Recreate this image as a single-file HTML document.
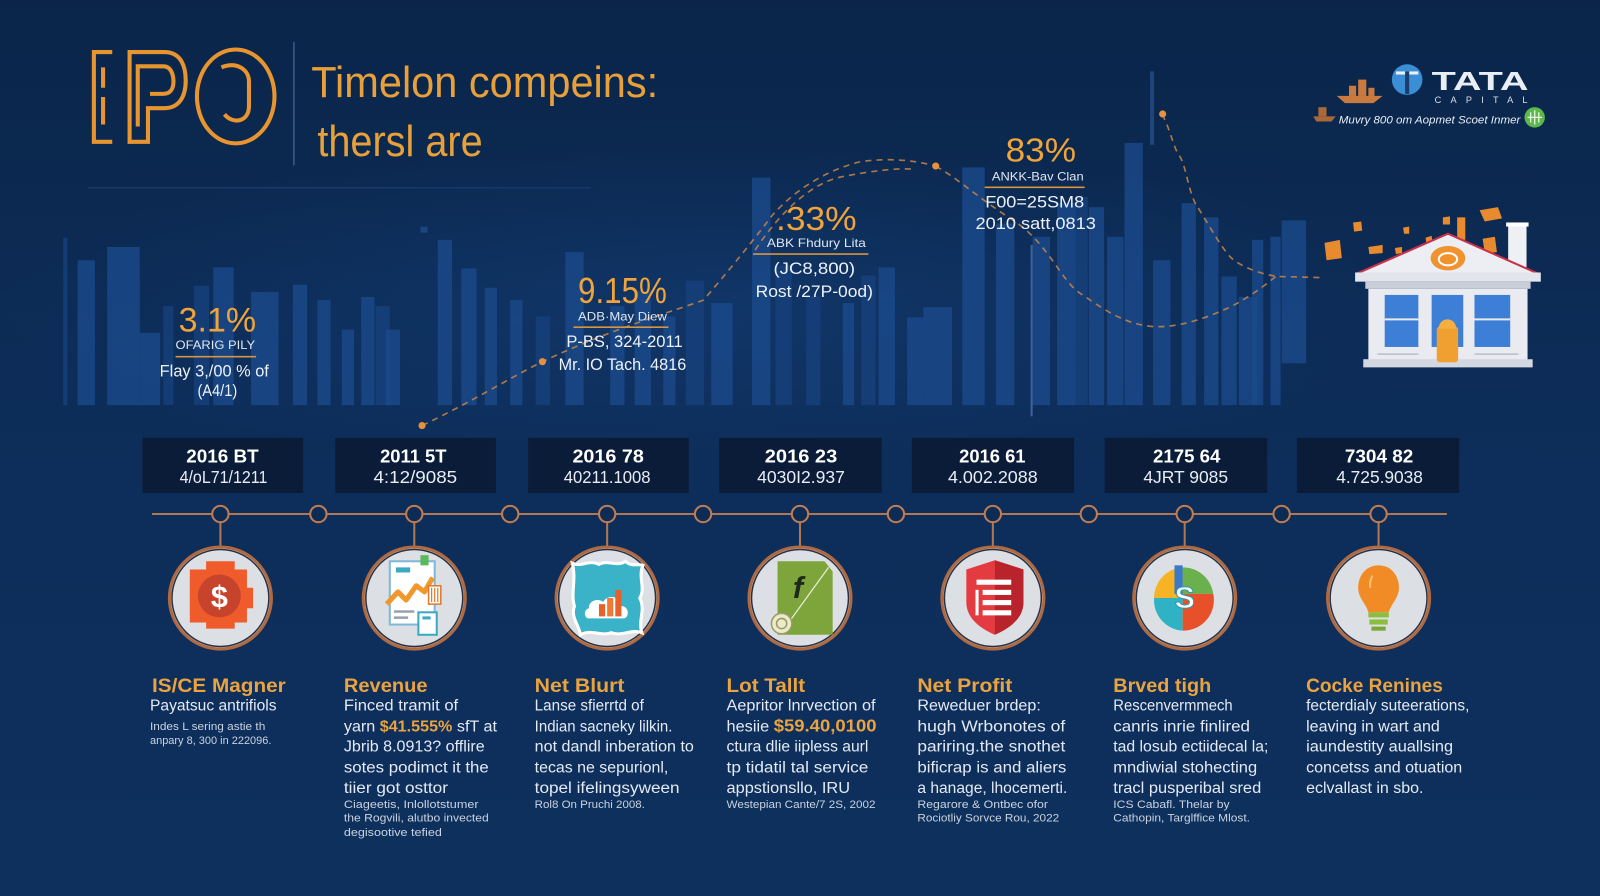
<!DOCTYPE html>
<html><head><meta charset="utf-8">
<style>
html,body{margin:0;padding:0;background:#0c2b55;overflow:hidden;}
svg{display:block;}
text{font-family:"Liberation Sans",sans-serif;}
.b1{fill:#1b4a8c;opacity:.78}
.b2{fill:#163f7a;opacity:.85}
.st{fill:#f0a43a;text-anchor:middle}
.sl{fill:#dfe6f0;text-anchor:middle;font-size:11.5px}
.sv{fill:#eef2f8;text-anchor:middle;font-size:16px}
.dl1{fill:#ffffff;text-anchor:middle;font-size:18.5px;font-weight:bold}
.dl2{fill:#e8edf5;text-anchor:middle;font-size:17px}
.tt{fill:#eaa33e;font-size:19px;font-weight:bold}
.bd{fill:#e4eaf3;font-size:15px}
.sm{fill:#c9d3e0;font-size:10.5px}
</style></head><body>
<svg width="1600" height="896" viewBox="0 0 1568 878" preserveAspectRatio="none" xmlns="http://www.w3.org/2000/svg">
<defs>
<linearGradient id="bg" x1="0" y1="0" x2="0" y2="1">
<stop offset="0" stop-color="#0a2549"/>
<stop offset="0.45" stop-color="#0d2d59"/>
<stop offset="1" stop-color="#0e305d"/>
</linearGradient>
<radialGradient id="glow" cx="0.5" cy="0.5" r="0.5">
<stop offset="0" stop-color="#14407a" stop-opacity="0.5"/>
<stop offset="1" stop-color="#14407a" stop-opacity="0"/>
</radialGradient>
</defs>
<rect width="1568" height="878" fill="url(#bg)"/>
<ellipse cx="700" cy="300" rx="700" ry="160" fill="url(#glow)"/>

<!-- background bars -->
<g>
<rect class="b2" x="62" y="233" width="4" height="164"/>
<rect class="b1" x="76" y="255" width="17" height="142"/>
<rect class="b1" x="105" y="242" width="32" height="155"/>
<rect class="b1" x="137" y="326" width="20" height="71"/>
<rect class="b2" x="160" y="300" width="10" height="97"/>
<rect class="b2" x="190" y="280" width="15" height="117"/>
<rect class="b1" x="209" y="262" width="20" height="135"/>
<rect class="b1" x="246" y="286" width="27" height="111"/>
<rect class="b1" x="287" y="279" width="14" height="118"/>
<rect class="b1" x="311" y="294" width="13" height="103"/>
<rect class="b1" x="335" y="323" width="12" height="74"/>
<rect class="b1" x="354" y="291" width="13" height="106"/>
<rect class="b2" x="368" y="300" width="14" height="97"/>
<rect class="b1" x="378" y="323" width="14" height="74"/>
<rect class="b1" x="412" y="222" width="7" height="6"/>
<rect class="b1" x="429" y="235" width="14" height="162"/>
<rect class="b1" x="452" y="263" width="15" height="134"/>
<rect class="b1" x="475" y="282" width="12" height="115"/>
<rect class="b1" x="500" y="294" width="12" height="103"/>
<rect class="b2" x="525" y="310" width="14" height="87"/>
<rect class="b1" x="554" y="247" width="18" height="150"/>
<rect class="b1" x="598" y="300" width="14" height="97"/>
<rect class="b1" x="622" y="285" width="16" height="112"/>
<rect class="b1" x="650" y="310" width="12" height="87"/>
<rect class="b2" x="672" y="275" width="18" height="122"/>
<rect class="b1" x="697" y="297" width="21" height="100"/>
<rect class="b1" x="737" y="174" width="18" height="223"/>
<rect class="b2" x="760" y="260" width="16" height="137"/>
<rect class="b2" x="790" y="290" width="14" height="107"/>
<rect class="b1" x="826" y="297" width="11" height="100"/>
<rect class="b2" x="844" y="270" width="14" height="127"/>
<rect class="b1" x="861" y="262" width="16" height="135"/>
<rect class="b1" x="889" y="311" width="16" height="86"/>
<rect class="b1" x="905" y="301" width="28" height="96"/>
<rect class="b1" x="943" y="164" width="22" height="233"/>
<rect class="b1" x="976" y="219" width="18" height="178"/>
<rect class="b1" x="1012" y="232" width="17" height="165"/>
<rect class="b1" x="1036" y="199" width="18" height="198"/>
<rect class="b2" x="1054" y="193" width="12" height="204"/>
<rect class="b1" x="1067" y="203" width="15" height="194"/>
<rect class="b1" x="1085" y="232" width="16" height="165"/>
<rect class="b1" x="1102" y="140" width="18" height="257"/>
<rect class="b1" x="1130" y="255" width="17" height="142"/>
<rect class="b1" x="1158" y="199" width="14" height="198"/>
<rect class="b1" x="1180" y="213" width="14" height="184"/>
<rect class="b1" x="1197" y="271" width="15" height="126"/>
<rect class="b1" x="1214" y="291" width="18" height="106"/>
<rect class="b1" x="1227" y="235" width="11" height="162"/>
<rect class="b1" x="1245" y="232" width="10" height="165"/>
<rect class="b1" x="1256" y="216" width="24" height="140"/>
<rect x="1127" y="70" width="4" height="72" fill="#2a5a9a" opacity=".6"/>
<rect x="1010" y="240" width="2" height="168" fill="#4a70a8" opacity=".8"/>
</g>

<!-- faint top line -->
<line x1="86" y1="184" x2="579" y2="184" stroke="#16396a" stroke-width="1.5"/>

<!-- dashed curves -->
<g fill="none" stroke="#c98648" stroke-width="1.6" stroke-dasharray="6 5" opacity=".85">
<path d="M413.6,417 C460,395 500,370 531.6,354.4 C600,322 660,305 689.5,294 C710,270 735,240 756,212 C775,190 805,168 843,158.5 C875,154 900,158 917,162.7"/>
<path d="M740,245 C770,200 800,178 826,173 S880,164 896,166"/>
<path d="M917,163 C935,172 960,195 993,216 S1040,275 1058,287 S1100,318 1130,320 S1200,305 1218,294 S1245,275 1254,268"/>
<path d="M1139,112 C1148,130 1150,145 1156,153 S1165,190 1173,202 S1195,240 1205,251 S1240,270 1254,271 L1295,272"/>
</g>
<g fill="#e8903e">
<circle cx="413.6" cy="417" r="3.5"/>
<circle cx="531.6" cy="354.4" r="3.5"/>
<circle cx="917" cy="162.7" r="3.5"/>
<circle cx="1139.4" cy="111.7" r="3.5"/>
</g>

<!-- IPO logo -->
<g fill="none" stroke="#e8952f" stroke-width="4">
<path d="M110,51 H92 V139 H110"/>
<path d="M101,66 V86 M101,95 V122"/>
<path d="M127,139 V51 H161 C178,51 182,66 182,79 C182,94 176,106 161,106 H145 V139 Z"/>
<path d="M135,124 V65 H160 C168,65 170,74 170,80 C170,88 166,92 160,92 H147"/>
<ellipse cx="231" cy="94.5" rx="38" ry="46"/>
<path d="M217,66 C232,60 244,68 244,80 V104 C244,120 228,122 220,112"/>
</g>
<line x1="288" y1="41" x2="288" y2="162" stroke="#3b5d88" stroke-width="1.5"/>
<text x="305" y="95" font-size="43" fill="#e8a03a" textLength="340" lengthAdjust="spacingAndGlyphs">Timelon compeins:</text>
<text x="311" y="153" font-size="43" fill="#e8a03a" textLength="162" lengthAdjust="spacingAndGlyphs">thersl are</text>

<!-- stats -->
<text class="st" x="213" y="325" font-size="34" textLength="76" lengthAdjust="spacingAndGlyphs">3.1%</text>
<text class="sl" x="211" y="342" textLength="78" lengthAdjust="spacingAndGlyphs">OFARIG PILY</text>
<line x1="172" y1="349.5" x2="251" y2="349.5" stroke="#d6953e" stroke-width="1.6"/>
<text class="sv" x="210" y="369" textLength="107" lengthAdjust="spacingAndGlyphs">Flay 3,/00 % of</text>
<text class="sv" x="213" y="388" textLength="39" lengthAdjust="spacingAndGlyphs">(A4/1)</text>

<text class="st" x="610" y="297" font-size="35" textLength="87" lengthAdjust="spacingAndGlyphs">9.15%</text>
<text class="sl" x="610" y="314" textLength="87" lengthAdjust="spacingAndGlyphs">ADB·May Diew</text>
<line x1="562" y1="320.6" x2="655" y2="320.6" stroke="#d6953e" stroke-width="1.6"/>
<text class="sv" x="612" y="340" textLength="114" lengthAdjust="spacingAndGlyphs">P-BS, 324-2011</text>
<text class="sv" x="610" y="362.6" textLength="125" lengthAdjust="spacingAndGlyphs">Mr. IO Tach. 4816</text>

<text class="st" x="800" y="225.4" font-size="33" textLength="79" lengthAdjust="spacingAndGlyphs">.33%</text>
<text class="sl" x="800" y="242" textLength="97" lengthAdjust="spacingAndGlyphs">ABK Fhdury Lita</text>
<line x1="738" y1="249" x2="851" y2="249" stroke="#d6953e" stroke-width="1.6"/>
<text class="sv" x="798" y="268.5" textLength="80" lengthAdjust="spacingAndGlyphs">(JC8,800)</text>
<text class="sv" x="798" y="291" textLength="115" lengthAdjust="spacingAndGlyphs">Rost /27P-0od)</text>

<text class="st" x="1020" y="158.5" font-size="33" textLength="69" lengthAdjust="spacingAndGlyphs">83%</text>
<text class="sl" x="1017" y="177" textLength="90" lengthAdjust="spacingAndGlyphs">ANKK-Bav Clan</text>
<line x1="965" y1="183.6" x2="1063" y2="183.6" stroke="#d6953e" stroke-width="1.6"/>
<text class="sv" x="1014" y="203.5" textLength="97" lengthAdjust="spacingAndGlyphs">F00=25SM8</text>
<text class="sv" x="1015" y="224.5" textLength="118" lengthAdjust="spacingAndGlyphs">2010 satt,0813</text>

<!-- TATA logo -->
<g>
<path d="M1310,94 H1355 L1346,101 H1318 Z" fill="#c97a3e"/>
<rect x="1322" y="84" width="7" height="10" fill="#c97a3e"/>
<rect x="1331" y="78" width="8" height="16" fill="#c97a3e"/>
<rect x="1341" y="86" width="6" height="8" fill="#c97a3e"/>
<path d="M1287,114 H1309 L1305,119 H1290 Z" fill="#a8683a"/>
<rect x="1292" y="105" width="8" height="9" fill="#a8683a"/>
<circle cx="1379" cy="78" r="15" fill="#3a8ed6"/>
<rect x="1368" y="70" width="22" height="3" fill="#e8f0f8"/>
<rect x="1377" y="70" width="4" height="22" fill="#1c3d6a"/>
<text x="1403" y="88" font-size="25" font-weight="bold" fill="#e9eef5" textLength="95" lengthAdjust="spacingAndGlyphs">TATA</text>
<text x="1406" y="101" font-size="9" fill="#d8e0ea" textLength="91" lengthAdjust="spacing">CAPITAL</text>
<text x="1312" y="121" font-size="11" font-style="italic" fill="#e8eef5" textLength="178" lengthAdjust="spacingAndGlyphs">Muvry 800 om Aopmet Scoet Inmer</text>
<circle cx="1504" cy="115" r="10" fill="#5cb84a"/>
<path d="M1497,115 H1511 M1504,108 V122 M1500,110 V120 M1508,110 V120" stroke="#e8f5e0" stroke-width="1.3" fill="none"/>
</g>

<!-- House -->
<g>
<g fill="#e88a2e">
<path d="M1298,238 L1313,235 L1315,253 L1300,255 Z"/>
<path d="M1326,218 L1334,217 L1335,226 L1327,227 Z"/>
<path d="M1341,242 L1355,240 L1355,248 L1342,249 Z"/>
<path d="M1367,243 L1374,242 L1374,248 L1368,249 Z"/>
<path d="M1375,223 L1381,222 L1381,229 L1376,229 Z"/>
<path d="M1414,213 L1421,212 L1421,220 L1414,220 Z"/>
<rect x="1428" y="213" width="8" height="22"/>
<path d="M1450,206 L1468,203 L1472,214 L1455,217 Z"/>
<path d="M1453,234 L1465,232 L1467,247 L1455,248 Z"/>
<path d="M1397,233 L1403,231 L1404,238 L1398,239 Z"/>
</g>
<rect x="1478" y="220" width="18" height="42" fill="#eef0f4"/>
<rect x="1476" y="218" width="22" height="4" fill="#ffffff"/>
<path d="M1419,229 L1507,268 H1330 Z" fill="#eceef3"/>
<path d="M1330,268 L1419,229 L1507,268" fill="none" stroke="#c8314a" stroke-width="2"/>
<ellipse cx="1419" cy="253" rx="17" ry="12" fill="#f0922e"/>
<ellipse cx="1419" cy="254" rx="9" ry="6" fill="none" stroke="#fff" stroke-width="2"/>
<rect x="1328" y="267" width="182" height="9" fill="#e2e5ec"/>
<rect x="1338" y="276" width="162" height="7" fill="#c8cdd8"/>
<rect x="1341" y="283" width="156" height="72" fill="#e9ebf0"/>
<rect x="1336" y="352" width="166" height="8" fill="#d3d7df"/>
<g fill="#3d7fd6">
<rect x="1357" y="289" width="33" height="51"/>
<rect x="1403" y="289" width="31" height="51"/>
<rect x="1445" y="289" width="35" height="51"/>
</g>
<g stroke="#e9ebf0" stroke-width="2">
<line x1="1357" y1="313" x2="1390" y2="313"/>
<line x1="1445" y1="313" x2="1480" y2="313"/>
</g>
<rect x="1408" y="320" width="21" height="35" rx="3" fill="#f0a030"/>
<path d="M1410,322 C1410,310 1427,310 1427,322 Z" fill="#f3b040"/>
<line x1="1350" y1="347" x2="1390" y2="347" stroke="#b8bec9" stroke-width="1.5"/>
<line x1="1445" y1="347" x2="1488" y2="347" stroke="#b8bec9" stroke-width="1.5"/>
</g>

<!-- date boxes -->
<g fill="#0a1c38">
<rect x="139.7" y="429" width="157.3" height="54"/>
<rect x="328.6" y="429" width="157.4" height="54"/>
<rect x="517.6" y="429" width="157.4" height="54"/>
<rect x="704.8" y="429" width="159.2" height="54"/>
<rect x="893.6" y="429" width="159" height="54"/>
<rect x="1082.6" y="429" width="159.3" height="54"/>
<rect x="1271" y="429" width="159" height="54"/>
</g>
<g>
<text class="dl1" x="218" y="453" textLength="71" lengthAdjust="spacingAndGlyphs">2016 BT</text>
<text class="dl2" x="219" y="473.5" textLength="86" lengthAdjust="spacingAndGlyphs">4/oL71/1211</text>
<text class="dl1" x="405" y="453" textLength="65" lengthAdjust="spacingAndGlyphs">2011 5T</text>
<text class="dl2" x="407" y="473.5" textLength="82" lengthAdjust="spacingAndGlyphs">4:12/9085</text>
<text class="dl1" x="596" y="453" textLength="70" lengthAdjust="spacingAndGlyphs">2016 78</text>
<text class="dl2" x="595" y="473.5" textLength="85" lengthAdjust="spacingAndGlyphs">40211.1008</text>
<text class="dl1" x="785" y="453" textLength="71" lengthAdjust="spacingAndGlyphs">2016 23</text>
<text class="dl2" x="785" y="473.5" textLength="86" lengthAdjust="spacingAndGlyphs">4030I2.937</text>
<text class="dl1" x="972.5" y="453" textLength="65" lengthAdjust="spacingAndGlyphs">2016 61</text>
<text class="dl2" x="973" y="473.5" textLength="88" lengthAdjust="spacingAndGlyphs">4.002.2088</text>
<text class="dl1" x="1163" y="453" textLength="66" lengthAdjust="spacingAndGlyphs">2175 64</text>
<text class="dl2" x="1162" y="473.5" textLength="83" lengthAdjust="spacingAndGlyphs">4JRT 9085</text>
<text class="dl1" x="1351.5" y="453" textLength="67" lengthAdjust="spacingAndGlyphs">7304 82</text>
<text class="dl2" x="1352" y="473.5" textLength="85" lengthAdjust="spacingAndGlyphs">4.725.9038</text>
</g>

<!-- timeline -->
<line x1="149" y1="503.7" x2="1418" y2="503.7" stroke="#b07850" stroke-width="2"/>
<g stroke="#b07850" stroke-width="2">
<line x1="216" y1="511" x2="216" y2="536"/>
<line x1="406" y1="511" x2="406" y2="536"/>
<line x1="595" y1="511" x2="595" y2="536"/>
<line x1="784" y1="511" x2="784" y2="536"/>
<line x1="973" y1="511" x2="973" y2="536"/>
<line x1="1161" y1="511" x2="1161" y2="536"/>
<line x1="1351" y1="511" x2="1351" y2="536"/>
</g>
<g fill="#0c2b55" stroke="#c27c52" stroke-width="2">
<circle cx="216" cy="503.7" r="8"/>
<circle cx="312" cy="503.7" r="8"/>
<circle cx="406" cy="503.7" r="8"/>
<circle cx="500" cy="503.7" r="8"/>
<circle cx="595" cy="503.7" r="8"/>
<circle cx="689" cy="503.7" r="8"/>
<circle cx="784" cy="503.7" r="8"/>
<circle cx="878" cy="503.7" r="8"/>
<circle cx="973" cy="503.7" r="8"/>
<circle cx="1067" cy="503.7" r="8"/>
<circle cx="1161" cy="503.7" r="8"/>
<circle cx="1256" cy="503.7" r="8"/>
<circle cx="1351" cy="503.7" r="8"/>
</g>

<!-- icon circles -->
<g>
<g fill="#dcdfe4" stroke="#b06a42" stroke-width="3">
<circle cx="216" cy="586" r="50"/>
<circle cx="406" cy="586" r="50"/>
<circle cx="595" cy="586" r="50"/>
<circle cx="784" cy="586" r="50"/>
<circle cx="973" cy="586" r="50"/>
<circle cx="1161" cy="586" r="50"/>
<circle cx="1351" cy="586" r="50"/>
</g>
<g fill="none" stroke="#2a3040" stroke-width="1.5">
<circle cx="216" cy="586" r="47.5"/>
<circle cx="406" cy="586" r="47.5"/>
<circle cx="595" cy="586" r="47.5"/>
<circle cx="784" cy="586" r="47.5"/>
<circle cx="973" cy="586" r="47.5"/>
<circle cx="1161" cy="586" r="47.5"/>
<circle cx="1351" cy="586" r="47.5"/>
</g>
</g>

<!-- icon 1: gear $ -->
<g transform="translate(216,586)">
<path d="M-30,-28 H-14 V-36 H14 V-28 H26 V-10 H32 V10 H26 V24 H14 V30 H-14 V24 H-30 Z" fill="#ef5b2b"/>
<circle cx="-1" cy="-2" r="21" fill="#c8432c"/>
<text x="-1" y="9" font-size="30" font-weight="bold" fill="#ffffff" text-anchor="middle">$</text>
</g>

<!-- icon 2: document chart -->
<g transform="translate(406,586)">
<rect x="-24" y="-36" width="44" height="62" fill="#ffffff" stroke="#7fb8d8" stroke-width="2"/>
<rect x="-18" y="-30" width="14" height="5" fill="#3aa9c4"/>
<polyline points="-27,6 -16,-6 -8,2 2,-12 10,-6 18,-20" fill="none" stroke="#f0972e" stroke-width="5" stroke-linejoin="round"/>
<rect x="6" y="-42" width="8" height="10" fill="#5cb85c"/>
<rect x="14" y="-12" width="12" height="18" fill="#ffffff" stroke="#e07a2a" stroke-width="1.5"/>
<path d="M17,-10 V4 M20,-10 V4 M23,-10 V4" stroke="#e07a2a" stroke-width="1.2"/>
<rect x="-20" y="12" width="20" height="2.5" fill="#9aa3ad"/>
<rect x="-20" y="18" width="14" height="2.5" fill="#9aa3ad"/>
<rect x="4" y="14" width="18" height="22" fill="#ffffff" stroke="#3aa9c4" stroke-width="2"/>
<rect x="8" y="18" width="8" height="3" fill="#3aa9c4"/>
</g>

<!-- icon 3: teal badge -->
<g transform="translate(595,586)">
<path d="M-34,-34 C-25,-30 -18,-38 -8,-33 C0,-38 10,-30 18,-36 C24,-30 30,-34 35,-32 C30,-20 38,-10 32,0 C38,12 30,22 34,34 C24,30 14,38 4,34 C-6,38 -16,30 -26,36 C-28,26 -36,18 -32,8 C-36,-4 -30,-18 -34,-34 Z" fill="#3ab3c8" stroke="#ffffff" stroke-width="3"/>
<path d="M-18,20 C-22,20 -24,12 -18,10 C-18,2 -8,0 -4,4 C0,-4 14,-2 14,8 C22,8 22,20 16,20 Z" fill="#ffffff"/>
<rect x="-8" y="6" width="6" height="12" fill="#e8602a"/>
<rect x="0" y="0" width="6" height="18" fill="#f07a35"/>
<rect x="8" y="-8" width="6" height="26" fill="#e8602a"/>
</g>

<!-- icon 4: green doc -->
<g transform="translate(784,586)">
<path d="M-22,-36 H24 L32,-26 V36 H-22 Z" fill="#7ea53c"/>
<path d="M28,-30 L-14,28" stroke="#e8eedb" stroke-width="1.2"/>
<text x="-2" y="0" font-size="30" font-weight="bold" font-style="italic" fill="#1c2a1c" text-anchor="middle" font-family="Liberation Serif, serif">f</text>
<circle cx="-18" cy="25" r="10" fill="#ecebc8" stroke="#9a9a6a" stroke-width="1.5"/>
<circle cx="-18" cy="25" r="5" fill="none" stroke="#9a9a6a" stroke-width="1.5"/>
</g>

<!-- icon 5: red shield -->
<g transform="translate(973,586)">
<path d="M-26,-28 L2,-37 L30,-28 V4 C30,20 16,30 2,36 C-12,30 -26,20 -26,4 Z" fill="#e33b40"/>
<path d="M2,-37 L30,-28 V4 C30,20 16,30 2,36 Z" fill="#b9232c"/>
<g fill="#ffffff">
<rect x="-16" y="-18" width="34" height="5"/>
<rect x="-10" y="-8" width="28" height="5"/>
<rect x="-10" y="2" width="28" height="5"/>
<rect x="-10" y="12" width="28" height="5"/>
<rect x="-17" y="-8" width="3" height="25"/>
</g>
</g>

<!-- icon 6: colorful S -->
<g transform="translate(1161,586)">
<path d="M-2,-30 A30,30 0 0 0 -30,0 H-2 Z" fill="#f5b325"/>
<path d="M-2,-30 A30,30 0 0 1 28,-4 H-2 Z" fill="#6ab04c"/>
<path d="M-30,0 A30,30 0 0 0 -2,32 V0 Z" fill="#2fb3c4"/>
<path d="M28,-4 A30,30 0 0 1 -2,32 V-4 Z" fill="#e8502a"/>
<rect x="-10" y="-32" width="8" height="28" fill="#3a78c8"/>
<text x="0" y="10" font-size="30" font-weight="bold" fill="#ffffff" stroke="#2a9ab0" stroke-width="1" text-anchor="middle">S</text>
</g>

<!-- icon 7: lightbulb -->
<g transform="translate(1351,586)">
<path d="M0,-32 C14,-32 20,-20 20,-10 C20,0 12,6 10,14 H-10 C-12,6 -20,0 -20,-10 C-20,-20 -14,-32 0,-32 Z" fill="#f08b25"/>
<path d="M-6,-22 C-8,-18 -9,-14 -8,-10" stroke="#f8c070" stroke-width="2" fill="none"/>
<rect x="-10" y="14" width="20" height="5" fill="#8dbd3f"/>
<rect x="-9" y="21" width="18" height="5" fill="#8dbd3f"/>
<rect x="-7" y="28" width="14" height="4" fill="#7aa835"/>
</g>

<!-- bottom text -->
<g>
<text class="tt" x="149" y="678" textLength="131" lengthAdjust="spacingAndGlyphs">IS/CE Magner</text>
<text class="bd" x="147" y="696" textLength="124" lengthAdjust="spacingAndGlyphs">Payatsuc antrifiols</text>
<text class="sm" x="147" y="715.4" textLength="113" lengthAdjust="spacingAndGlyphs">Indes L sering astie th</text>
<text class="sm" x="147" y="729" textLength="119" lengthAdjust="spacingAndGlyphs">anpary 8, 300 in 222096.</text>

<text class="tt" x="337" y="678" textLength="82" lengthAdjust="spacingAndGlyphs">Revenue</text>
<text class="bd" x="337" y="696" textLength="112" lengthAdjust="spacingAndGlyphs">Finced tramit of</text>
<text class="bd" x="337" y="717" textLength="150" lengthAdjust="spacingAndGlyphs">yarn <tspan fill="#eaa33e" font-weight="bold">$41.555%</tspan> sfT at</text>
<text class="bd" x="337" y="736.6" textLength="138" lengthAdjust="spacingAndGlyphs">Jbrib 8.0913? offlire</text>
<text class="bd" x="337" y="757" textLength="142" lengthAdjust="spacingAndGlyphs">sotes podimct it the</text>
<text class="bd" x="337" y="777" textLength="102" lengthAdjust="spacingAndGlyphs">tiier got osttor</text>
<text class="sm" x="337" y="792" textLength="132" lengthAdjust="spacingAndGlyphs">Ciageetis, Inlollotstumer</text>
<text class="sm" x="337" y="805" textLength="142" lengthAdjust="spacingAndGlyphs">the Rogvili, alutbo invected</text>
<text class="sm" x="337" y="819" textLength="96" lengthAdjust="spacingAndGlyphs">degisootive tefied</text>

<text class="tt" x="524" y="678" textLength="88" lengthAdjust="spacingAndGlyphs">Net Blurt</text>
<text class="bd" x="524" y="696" textLength="107" lengthAdjust="spacingAndGlyphs">Lanse sfierrtd of</text>
<text class="bd" x="524" y="717" textLength="135" lengthAdjust="spacingAndGlyphs">Indian sacneky lilkin.</text>
<text class="bd" x="524" y="736.6" textLength="156" lengthAdjust="spacingAndGlyphs">not dandl inberation to</text>
<text class="bd" x="524" y="757" textLength="131" lengthAdjust="spacingAndGlyphs">tecas ne sepurionl,</text>
<text class="bd" x="524" y="777" textLength="142" lengthAdjust="spacingAndGlyphs">topel ifelingsyween</text>
<text class="sm" x="524" y="792" textLength="108" lengthAdjust="spacingAndGlyphs">Rol8 On Pruchi 2008.</text>

<text class="tt" x="712" y="678" textLength="77" lengthAdjust="spacingAndGlyphs">Lot Tallt</text>
<text class="bd" x="712" y="696" textLength="146" lengthAdjust="spacingAndGlyphs">Aepritor lnrvection of</text>
<text class="bd" x="712" y="717" textLength="147" lengthAdjust="spacingAndGlyphs">hesiie <tspan fill="#eaa33e" font-weight="bold" font-size="17">$59.40,0100</tspan></text>
<text class="bd" x="712" y="736.6" textLength="139" lengthAdjust="spacingAndGlyphs">ctura dlie iipless aurl</text>
<text class="bd" x="712" y="757" textLength="139" lengthAdjust="spacingAndGlyphs">tp tidatil tal service</text>
<text class="bd" x="712" y="777" textLength="121" lengthAdjust="spacingAndGlyphs">appstionsllo, IRU</text>
<text class="sm" x="712" y="792" textLength="146" lengthAdjust="spacingAndGlyphs">Westepian Cante/7 2S, 2002</text>

<text class="tt" x="899" y="678" textLength="93" lengthAdjust="spacingAndGlyphs">Net Profit</text>
<text class="bd" x="899" y="696" textLength="121" lengthAdjust="spacingAndGlyphs">Reweduer brdep:</text>
<text class="bd" x="899" y="717" textLength="145" lengthAdjust="spacingAndGlyphs">hugh Wrbonotes of</text>
<text class="bd" x="899" y="736.6" textLength="145" lengthAdjust="spacingAndGlyphs">pariring.the snothet</text>
<text class="bd" x="899" y="757" textLength="146" lengthAdjust="spacingAndGlyphs">bificrap is and aliers</text>
<text class="bd" x="899" y="777" textLength="147" lengthAdjust="spacingAndGlyphs">a hanage, lhocemerti.</text>
<text class="sm" x="899" y="792" textLength="128" lengthAdjust="spacingAndGlyphs">Regarore &amp; Ontbec ofor</text>
<text class="sm" x="899" y="805" textLength="139" lengthAdjust="spacingAndGlyphs">Rociotliy Sorvce Rou, 2022</text>

<text class="tt" x="1091" y="678" textLength="96" lengthAdjust="spacingAndGlyphs">Brved tigh</text>
<text class="bd" x="1091" y="696" textLength="117" lengthAdjust="spacingAndGlyphs">Rescenvermmech</text>
<text class="bd" x="1091" y="717" textLength="134" lengthAdjust="spacingAndGlyphs">canris inrie finlired</text>
<text class="bd" x="1091" y="736.6" textLength="152" lengthAdjust="spacingAndGlyphs">tad losub ectiidecal la;</text>
<text class="bd" x="1091" y="757" textLength="141" lengthAdjust="spacingAndGlyphs">mndiwial stohecting</text>
<text class="bd" x="1091" y="777" textLength="145" lengthAdjust="spacingAndGlyphs">tracl pusperibal sred</text>
<text class="sm" x="1091" y="792" textLength="114" lengthAdjust="spacingAndGlyphs">ICS Cabafl. Thelar by</text>
<text class="sm" x="1091" y="805" textLength="134" lengthAdjust="spacingAndGlyphs">Cathopin, Targlffice Mlost.</text>

<text class="tt" x="1280" y="678" textLength="134" lengthAdjust="spacingAndGlyphs">Cocke Renines</text>
<text class="bd" x="1280" y="696" textLength="160" lengthAdjust="spacingAndGlyphs">fecterdialy suteerations,</text>
<text class="bd" x="1280" y="717" textLength="131" lengthAdjust="spacingAndGlyphs">leaving in wart and</text>
<text class="bd" x="1280" y="736.6" textLength="144" lengthAdjust="spacingAndGlyphs">iaundestity auallsing</text>
<text class="bd" x="1280" y="757" textLength="153" lengthAdjust="spacingAndGlyphs">concetss and otuation</text>
<text class="bd" x="1280" y="777" textLength="115" lengthAdjust="spacingAndGlyphs">eclvallast in sbo.</text>
</g>
</svg>
</body></html>
